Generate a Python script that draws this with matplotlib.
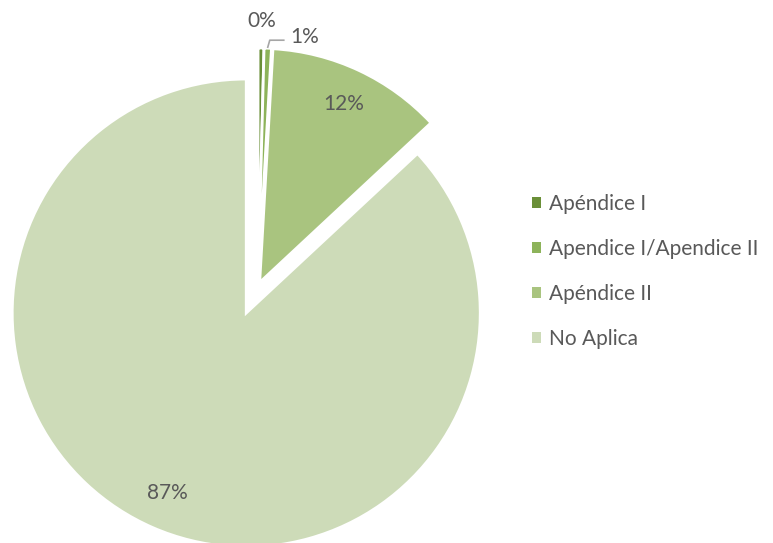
import matplotlib.pyplot as plt
from matplotlib.patches import Patch
import numpy as np

# counts per CITES appendix
categorias = ["Apéndice I", "Apendice I/Apendice II", "Apéndice II", "No Aplica"]
cantidades = [4, 5, 121, 865]
colores = ["#6a8f38", "#8db35a", "#a9c47f", "#cddbb8"]
separacion = [4, 4, 4, 29.5]

plt.rcParams['font.family'] = ['Lato', 'DejaVu Sans']
gris = "#595959"

fig = plt.figure(figsize=(7.73, 5.43), dpi=100)
ax = fig.add_axes([0, 0, 1, 1])

radio = 234
# axes span the figure in pixels, so explode is in pixels too
wedges, textos, autotextos = ax.pie(
    cantidades, colors=colores, center=(258, 257), radius=radio,
    explode=separacion, startangle=90, counterclock=False,
    autopct='%.0f%%', pctdistance=0.84, frame=True,
    wedgeprops=dict(edgecolor='white', linewidth=2),
    textprops=dict(color=gris, fontsize=15))
ax.set_xlim(0, 773)
ax.set_ylim(0, 543)
ax.set_aspect('equal')
ax.axis('off')

# small slices: put labels outside the pie
def borde(w):
    t = np.deg2rad((w.theta1 + w.theta2) / 2)
    return w.center[0] + w.r * np.cos(t), w.center[1] + w.r * np.sin(t)

x0, y0 = borde(wedges[0])
autotextos[0].set_position((x0 + 1, y0 + 27))
autotextos[0].set_ha('center')

x1, y1 = borde(wedges[1])
autotextos[1].set_position((x1 + 37, y1 + 11))
autotextos[1].set_ha('center')
ax.plot([x1, x1 + 2, x1 + 16], [y1 + 1, y1 + 8, y1 + 8], color="#a6a6a6", lw=1.2)

handles = [Patch(facecolor=c, edgecolor='none') for c in colores]
ax.legend(handles, categorias, loc='center left', bbox_to_anchor=(0.664, 0.5),
          frameon=False, fontsize=15, labelcolor=gris,
          handlelength=0.45, handleheight=0.45, handletextpad=0.35,
          labelspacing=1.19)

fig.savefig("out.png", dpi=100, facecolor="white")
